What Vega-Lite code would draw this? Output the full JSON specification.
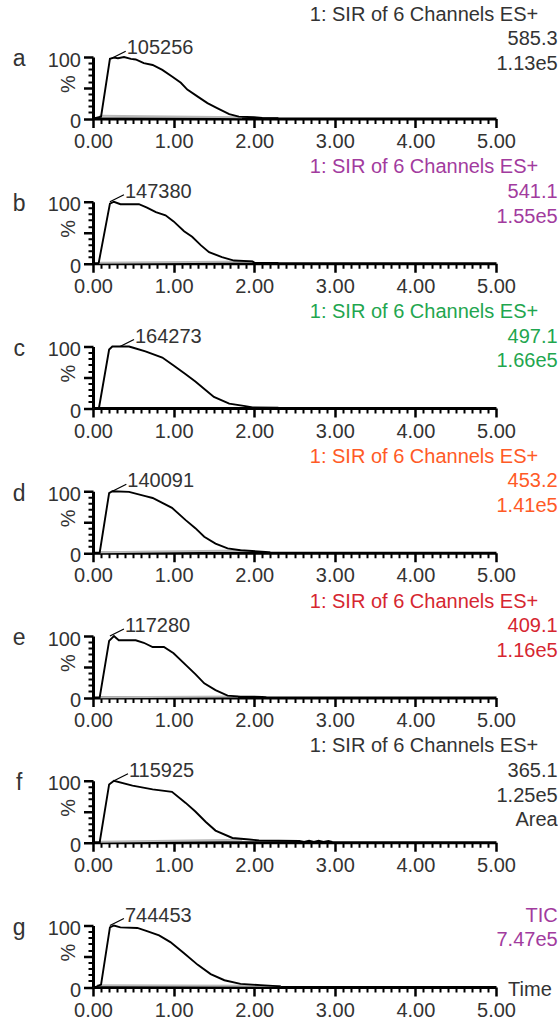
{
"$schema": "https://vega.github.io/schema/vega-lite/v6.json",
"padding": {"left": 12, "top": 4, "right": 0, "bottom": 0},
"background": "white",
"bounds": "flush",
"spacing": 82.75,
"config": {
  "view": {"stroke": null},
  "font": "Liberation Sans",
  "axis": {"labelFont": "Liberation Sans", "labelFontSize": 20, "labelColor": "#333333", "titleFont": "Liberation Sans", "titleFontSize": 20, "titleFontWeight": "normal", "titleColor": "#333333", "domainColor": "#000000", "tickColor": "#000000", "grid": false},
  "text": {"font": "Liberation Sans", "fontSize": 20, "color": "#333333"}
},
"datasets": {
  "traces": [
    {"panel":"a","series":"signal","t":0.01,"pct":0},{"panel":"a","series":"signal","t":0.1,"pct":3},{"panel":"a","series":"signal","t":0.21,"pct":97},{"panel":"a","series":"signal","t":0.26,"pct":99},{"panel":"a","series":"signal","t":0.31,"pct":98},{"panel":"a","series":"signal","t":0.385,"pct":100},{"panel":"a","series":"signal","t":0.47,"pct":97},{"panel":"a","series":"signal","t":0.53,"pct":96},{"panel":"a","series":"signal","t":0.63,"pct":90},{"panel":"a","series":"signal","t":0.74,"pct":87},{"panel":"a","series":"signal","t":0.86,"pct":79},{"panel":"a","series":"signal","t":0.985,"pct":68},{"panel":"a","series":"signal","t":1.09,"pct":58},{"panel":"a","series":"signal","t":1.17,"pct":47},{"panel":"a","series":"signal","t":1.295,"pct":36},{"panel":"a","series":"signal","t":1.42,"pct":25},{"panel":"a","series":"signal","t":1.54,"pct":17},{"panel":"a","series":"signal","t":1.69,"pct":7},{"panel":"a","series":"signal","t":1.81,"pct":3},{"panel":"a","series":"signal","t":2.0,"pct":2},{"panel":"a","series":"signal","t":2.1,"pct":1},{"panel":"a","series":"signal","t":2.3,"pct":0.5},
    {"panel":"a","series":"baseline","t":0.08,"pct":4.5},{"panel":"a","series":"baseline","t":1.85,"pct":2},
    {"panel":"b","series":"signal","t":0.07,"pct":0},{"panel":"b","series":"signal","t":0.21,"pct":97},{"panel":"b","series":"signal","t":0.26,"pct":100},{"panel":"b","series":"signal","t":0.34,"pct":96},{"panel":"b","series":"signal","t":0.57,"pct":96},{"panel":"b","series":"signal","t":0.67,"pct":90.5},{"panel":"b","series":"signal","t":0.78,"pct":83},{"panel":"b","series":"signal","t":0.9,"pct":78},{"panel":"b","series":"signal","t":1.0,"pct":68},{"panel":"b","series":"signal","t":1.13,"pct":52},{"panel":"b","series":"signal","t":1.23,"pct":43},{"panel":"b","series":"signal","t":1.34,"pct":29},{"panel":"b","series":"signal","t":1.44,"pct":18},{"panel":"b","series":"signal","t":1.6,"pct":10},{"panel":"b","series":"signal","t":1.75,"pct":4.4},{"panel":"b","series":"signal","t":1.98,"pct":3},{"panel":"b","series":"signal","t":2.01,"pct":0.5},{"panel":"b","series":"signal","t":2.3,"pct":0.3},
    {"panel":"b","series":"baseline","t":0.075,"pct":1},{"panel":"b","series":"baseline","t":1.98,"pct":3},
    {"panel":"c","series":"signal","t":0.074,"pct":0},{"panel":"c","series":"signal","t":0.2,"pct":95},{"panel":"c","series":"signal","t":0.24,"pct":100},{"panel":"c","series":"signal","t":0.447,"pct":100},{"panel":"c","series":"signal","t":0.5,"pct":98},{"panel":"c","series":"signal","t":0.65,"pct":92},{"panel":"c","series":"signal","t":0.86,"pct":82},{"panel":"c","series":"signal","t":1.0,"pct":69},{"panel":"c","series":"signal","t":1.15,"pct":55},{"panel":"c","series":"signal","t":1.27,"pct":43},{"panel":"c","series":"signal","t":1.4,"pct":29},{"panel":"c","series":"signal","t":1.5,"pct":18},{"panel":"c","series":"signal","t":1.69,"pct":7},{"panel":"c","series":"signal","t":1.89,"pct":3},{"panel":"c","series":"signal","t":1.98,"pct":1},{"panel":"c","series":"signal","t":2.3,"pct":0.5},
    {"panel":"d","series":"signal","t":0.083,"pct":0},{"panel":"d","series":"signal","t":0.2,"pct":97},{"panel":"d","series":"signal","t":0.24,"pct":100},{"panel":"d","series":"signal","t":0.447,"pct":99},{"panel":"d","series":"signal","t":0.65,"pct":92},{"panel":"d","series":"signal","t":0.74,"pct":89},{"panel":"d","series":"signal","t":0.86,"pct":81},{"panel":"d","series":"signal","t":0.98,"pct":73},{"panel":"d","series":"signal","t":1.15,"pct":53},{"panel":"d","series":"signal","t":1.27,"pct":40},{"panel":"d","series":"signal","t":1.38,"pct":26},{"panel":"d","series":"signal","t":1.52,"pct":15},{"panel":"d","series":"signal","t":1.67,"pct":7},{"panel":"d","series":"signal","t":1.83,"pct":4},{"panel":"d","series":"signal","t":2.14,"pct":1.5},{"panel":"d","series":"signal","t":2.2,"pct":0.5},
    {"panel":"d","series":"baseline","t":0.09,"pct":1},{"panel":"d","series":"baseline","t":1.85,"pct":3.5},
    {"panel":"e","series":"signal","t":0.083,"pct":0},{"panel":"e","series":"signal","t":0.2,"pct":92},{"panel":"e","series":"signal","t":0.26,"pct":100},{"panel":"e","series":"signal","t":0.32,"pct":93},{"panel":"e","series":"signal","t":0.53,"pct":93},{"panel":"e","series":"signal","t":0.63,"pct":89},{"panel":"e","series":"signal","t":0.74,"pct":82},{"panel":"e","series":"signal","t":0.88,"pct":82},{"panel":"e","series":"signal","t":1.0,"pct":72},{"panel":"e","series":"signal","t":1.15,"pct":53},{"panel":"e","series":"signal","t":1.27,"pct":38},{"panel":"e","series":"signal","t":1.38,"pct":23},{"panel":"e","series":"signal","t":1.52,"pct":12},{"panel":"e","series":"signal","t":1.67,"pct":3},{"panel":"e","series":"signal","t":1.83,"pct":1.5},{"panel":"e","series":"signal","t":2.1,"pct":1},{"panel":"e","series":"signal","t":2.15,"pct":0},
    {"panel":"e","series":"baseline","t":0.09,"pct":0.5},{"panel":"e","series":"baseline","t":1.8,"pct":1.5},
    {"panel":"f","series":"signal","t":0.083,"pct":0},{"panel":"f","series":"signal","t":0.2,"pct":94},{"panel":"f","series":"signal","t":0.26,"pct":100},{"panel":"f","series":"signal","t":0.49,"pct":92},{"panel":"f","series":"signal","t":0.74,"pct":86},{"panel":"f","series":"signal","t":0.98,"pct":82},{"panel":"f","series":"signal","t":1.15,"pct":64},{"panel":"f","series":"signal","t":1.27,"pct":50},{"panel":"f","series":"signal","t":1.4,"pct":33},{"panel":"f","series":"signal","t":1.52,"pct":19},{"panel":"f","series":"signal","t":1.73,"pct":7},{"panel":"f","series":"signal","t":1.94,"pct":4.4},{"panel":"f","series":"signal","t":2.06,"pct":3},{"panel":"f","series":"signal","t":2.3,"pct":2.5},{"panel":"f","series":"signal","t":2.56,"pct":2},{"panel":"f","series":"signal","t":2.62,"pct":0.5},{"panel":"f","series":"signal","t":2.68,"pct":2.5},{"panel":"f","series":"signal","t":2.74,"pct":0.5},{"panel":"f","series":"signal","t":2.8,"pct":2.5},{"panel":"f","series":"signal","t":2.86,"pct":0.5},{"panel":"f","series":"signal","t":2.92,"pct":2},{"panel":"f","series":"signal","t":2.97,"pct":0.5},
    {"panel":"f","series":"baseline","t":0.095,"pct":1},{"panel":"f","series":"baseline","t":1.85,"pct":4},
    {"panel":"g","series":"signal","t":0.03,"pct":0},{"panel":"g","series":"signal","t":0.1,"pct":4},{"panel":"g","series":"signal","t":0.21,"pct":97},{"panel":"g","series":"signal","t":0.26,"pct":100},{"panel":"g","series":"signal","t":0.34,"pct":97},{"panel":"g","series":"signal","t":0.55,"pct":96},{"panel":"g","series":"signal","t":0.67,"pct":91},{"panel":"g","series":"signal","t":0.82,"pct":84},{"panel":"g","series":"signal","t":0.96,"pct":73},{"panel":"g","series":"signal","t":1.13,"pct":55},{"panel":"g","series":"signal","t":1.3,"pct":36},{"panel":"g","series":"signal","t":1.46,"pct":21},{"panel":"g","series":"signal","t":1.63,"pct":11},{"panel":"g","series":"signal","t":1.83,"pct":5},{"panel":"g","series":"signal","t":2.08,"pct":3},{"panel":"g","series":"signal","t":2.33,"pct":1},
    {"panel":"g","series":"baseline","t":0.05,"pct":2.7},{"panel":"g","series":"baseline","t":2.33,"pct":2.1}
  ],
  "peaks": [
    {"panel":"a","t":0.232,"pct":98,"label":"105256"},
    {"panel":"b","t":0.21,"pct":100,"label":"147380"},
    {"panel":"c","t":0.335,"pct":100,"label":"164273"},
    {"panel":"d","t":0.24,"pct":100,"label":"140091"},
    {"panel":"e","t":0.21,"pct":100,"label":"117280"},
    {"panel":"f","t":0.26,"pct":100,"label":"115925"},
    {"panel":"g","t":0.21,"pct":100,"label":"744453"}
  ],
  "labels": [
    {"panel":"a","col":"letter","row":0,"text":"a"},{"panel":"a","col":"title","row":1,"text":"1: SIR of 6 Channels ES+"},{"panel":"a","col":"value","row":2,"text":"585.3"},{"panel":"a","col":"value","row":3,"text":"1.13e5"},
    {"panel":"b","col":"letter","row":0,"text":"b"},{"panel":"b","col":"title","row":1,"text":"1: SIR of 6 Channels ES+"},{"panel":"b","col":"value","row":2,"text":"541.1"},{"panel":"b","col":"value","row":3,"text":"1.55e5"},
    {"panel":"c","col":"letter","row":0,"text":"c"},{"panel":"c","col":"title","row":1,"text":"1: SIR of 6 Channels ES+"},{"panel":"c","col":"value","row":2,"text":"497.1"},{"panel":"c","col":"value","row":3,"text":"1.66e5"},
    {"panel":"d","col":"letter","row":0,"text":"d"},{"panel":"d","col":"title","row":1,"text":"1: SIR of 6 Channels ES+"},{"panel":"d","col":"value","row":2,"text":"453.2"},{"panel":"d","col":"value","row":3,"text":"1.41e5"},
    {"panel":"e","col":"letter","row":0,"text":"e"},{"panel":"e","col":"title","row":1,"text":"1: SIR of 6 Channels ES+"},{"panel":"e","col":"value","row":2,"text":"409.1"},{"panel":"e","col":"value","row":3,"text":"1.16e5"},
    {"panel":"f","col":"letter","row":0,"text":"f"},{"panel":"f","col":"title","row":1,"text":"1: SIR of 6 Channels ES+"},{"panel":"f","col":"value","row":2,"text":"365.1"},{"panel":"f","col":"value","row":3,"text":"1.25e5"},{"panel":"f","col":"value","row":4,"text":"Area"},
    {"panel":"g","col":"letter","row":0,"text":"g"},{"panel":"g","col":"value","row":2,"text":"TIC"},{"panel":"g","col":"value","row":3,"text":"7.47e5"},{"panel":"g","col":"time","row":0,"text":"Time"}
  ]
},
"vconcat": [
{"width":403,"height":61.5,"resolve":{"scale":{"y":"independent"},"axis":{"x":"independent","y":"independent"}},"layer":[
 {"data":{"name":"traces"},"transform":[{"filter":"datum.panel==='a' && datum.series==='baseline'"}],"mark":{"type":"line","color":"#b8b8b8","strokeWidth":2},"encoding":{"x":{"field":"t","type":"quantitative","scale":{"domain":[0,5],"nice":false,"zero":false},"axis":{"orient":"bottom","values":[0.1,0.2,0.3,0.4,0.5,0.6,0.7,0.8,0.9,1.1,1.2,1.3,1.4,1.5,1.6,1.7,1.8,1.9,2.1,2.2,2.3,2.4,2.5,2.6,2.7,2.8,2.9,3.1,3.2,3.3,3.4,3.5,3.6,3.7,3.8,3.9,4.1,4.2,4.3,4.4,4.5,4.6,4.7,4.8,4.9],"tickSize":5,"tickWidth":2,"labels":false,"domain":false,"title":null}},"y":{"field":"pct","type":"quantitative","scale":{"domain":[0,100],"nice":false,"zero":false},"axis":{"orient":"left","values":[10,20,30,40,60,70,80,90],"tickSize":5,"tickWidth":2,"labels":false,"domain":false,"title":null}}}},
 {"data":{"name":"traces"},"transform":[{"filter":"datum.panel==='a' && datum.series==='signal'"}],"mark":{"type":"line","color":"#000000","strokeWidth":1.9},"encoding":{"x":{"field":"t","type":"quantitative","scale":{"domain":[0,5],"nice":false,"zero":false},"axis":{"orient":"bottom","values":[0,1,2,3,4,5],"format":".2f","tickSize":9,"tickWidth":2.5,"domainWidth":3,"labelPadding":4,"title":null,"labelFlush":false,"labelOverlap":false}},"y":{"field":"pct","type":"quantitative","scale":{"domain":[0,100],"nice":false,"zero":false},"axis":{"orient":"left","values":[0,50,100],"tickSize":9.5,"tickWidth":2.5,"domainWidth":3,"labelPadding":3,"labelOffset":3,"labelExpr":"datum.value === 50 ? '' : datum.label","format":"d","title":"%","titleAngle":-90,"titleX":-25,"titleY":26.7,"titleBaseline":"middle","titleAlign":"center"}}}},
 {"data":{"name":"peaks"},"transform":[{"filter":"datum.panel==='a'"}],"mark":{"type":"rule","color":"#000000","strokeWidth":1.3,"x2Offset":14,"y2Offset":-7},"encoding":{"x":{"field":"t","type":"quantitative","scale":{"domain":[0,5],"nice":false,"zero":false},"axis":null},"x2":{"field":"t"},"y":{"field":"pct","type":"quantitative","scale":{"domain":[0,100],"nice":false,"zero":false},"axis":null},"y2":{"field":"pct"}}},
 {"data":{"name":"peaks"},"transform":[{"filter":"datum.panel==='a'"}],"mark":{"type":"text","align":"left","baseline":"middle","dx":15,"dy":-10},"encoding":{"x":{"field":"t","type":"quantitative","scale":{"domain":[0,5],"nice":false,"zero":false},"axis":null},"y":{"field":"pct","type":"quantitative","scale":{"domain":[0,100],"nice":false,"zero":false},"axis":null},"text":{"field":"label"}}},
 {"data":{"name":"labels"},"transform":[{"filter":"datum.panel==='a' && datum.col==='letter'"}],"mark":{"type":"text","align":"center","baseline":"alphabetic","fontSize":23},"encoding":{"x":{"datum":-0.916,"type":"quantitative","scale":{"domain":[0,5],"nice":false,"zero":false},"axis":null},"y":{"datum":84.7,"type":"quantitative","scale":{"domain":[0,100],"nice":false,"zero":false},"axis":null},"text":{"field":"text"}}},
 {"data":{"name":"labels"},"transform":[{"filter":"datum.panel==='a' && datum.col==='title'"}],"mark":{"type":"text","align":"right","baseline":"middle","color":"#333333"},"encoding":{"x":{"datum":5.524,"type":"quantitative","scale":{"domain":[0,5],"nice":false,"zero":false},"axis":null},"y":{"field":"row","type":"quantitative","scale":{"domain":[1,4],"range":[-42.4,31.5],"nice":false,"zero":false},"axis":null},"text":{"field":"text"}}},
 {"data":{"name":"labels"},"transform":[{"filter":"datum.panel==='a' && datum.col==='value'"}],"mark":{"type":"text","align":"right","baseline":"middle","color":"#333333"},"encoding":{"x":{"datum":5.765,"type":"quantitative","scale":{"domain":[0,5],"nice":false,"zero":false},"axis":null},"y":{"field":"row","type":"quantitative","scale":{"domain":[1,4],"range":[-42.4,31.5],"nice":false,"zero":false},"axis":null},"text":{"field":"text"}}}
]},
{"width":403,"height":61.5,"resolve":{"scale":{"y":"independent"},"axis":{"x":"independent","y":"independent"}},"layer":[
 {"data":{"name":"traces"},"transform":[{"filter":"datum.panel==='b' && datum.series==='baseline'"}],"mark":{"type":"line","color":"#b8b8b8","strokeWidth":2},"encoding":{"x":{"field":"t","type":"quantitative","scale":{"domain":[0,5],"nice":false,"zero":false},"axis":{"orient":"bottom","values":[0.1,0.2,0.3,0.4,0.5,0.6,0.7,0.8,0.9,1.1,1.2,1.3,1.4,1.5,1.6,1.7,1.8,1.9,2.1,2.2,2.3,2.4,2.5,2.6,2.7,2.8,2.9,3.1,3.2,3.3,3.4,3.5,3.6,3.7,3.8,3.9,4.1,4.2,4.3,4.4,4.5,4.6,4.7,4.8,4.9],"tickSize":5,"tickWidth":2,"labels":false,"domain":false,"title":null}},"y":{"field":"pct","type":"quantitative","scale":{"domain":[0,100],"nice":false,"zero":false},"axis":{"orient":"left","values":[10,20,30,40,60,70,80,90],"tickSize":5,"tickWidth":2,"labels":false,"domain":false,"title":null}}}},
 {"data":{"name":"traces"},"transform":[{"filter":"datum.panel==='b' && datum.series==='signal'"}],"mark":{"type":"line","color":"#000000","strokeWidth":1.9},"encoding":{"x":{"field":"t","type":"quantitative","scale":{"domain":[0,5],"nice":false,"zero":false},"axis":{"orient":"bottom","values":[0,1,2,3,4,5],"format":".2f","tickSize":9,"tickWidth":2.5,"domainWidth":3,"labelPadding":4,"title":null,"labelFlush":false,"labelOverlap":false}},"y":{"field":"pct","type":"quantitative","scale":{"domain":[0,100],"nice":false,"zero":false},"axis":{"orient":"left","values":[0,50,100],"tickSize":9.5,"tickWidth":2.5,"domainWidth":3,"labelPadding":3,"labelOffset":3,"labelExpr":"datum.value === 50 ? '' : datum.label","format":"d","title":"%","titleAngle":-90,"titleX":-25,"titleY":26.7,"titleBaseline":"middle","titleAlign":"center"}}}},
 {"data":{"name":"peaks"},"transform":[{"filter":"datum.panel==='b'"}],"mark":{"type":"rule","color":"#000000","strokeWidth":1.3,"x2Offset":14,"y2Offset":-7},"encoding":{"x":{"field":"t","type":"quantitative","scale":{"domain":[0,5],"nice":false,"zero":false},"axis":null},"x2":{"field":"t"},"y":{"field":"pct","type":"quantitative","scale":{"domain":[0,100],"nice":false,"zero":false},"axis":null},"y2":{"field":"pct"}}},
 {"data":{"name":"peaks"},"transform":[{"filter":"datum.panel==='b'"}],"mark":{"type":"text","align":"left","baseline":"middle","dx":15,"dy":-10},"encoding":{"x":{"field":"t","type":"quantitative","scale":{"domain":[0,5],"nice":false,"zero":false},"axis":null},"y":{"field":"pct","type":"quantitative","scale":{"domain":[0,100],"nice":false,"zero":false},"axis":null},"text":{"field":"label"}}},
 {"data":{"name":"labels"},"transform":[{"filter":"datum.panel==='b' && datum.col==='letter'"}],"mark":{"type":"text","align":"center","baseline":"alphabetic","fontSize":23},"encoding":{"x":{"datum":-0.916,"type":"quantitative","scale":{"domain":[0,5],"nice":false,"zero":false},"axis":null},"y":{"datum":84.7,"type":"quantitative","scale":{"domain":[0,100],"nice":false,"zero":false},"axis":null},"text":{"field":"text"}}},
 {"data":{"name":"labels"},"transform":[{"filter":"datum.panel==='b' && datum.col==='title'"}],"mark":{"type":"text","align":"right","baseline":"middle","color":"#a23b9e"},"encoding":{"x":{"datum":5.524,"type":"quantitative","scale":{"domain":[0,5],"nice":false,"zero":false},"axis":null},"y":{"field":"row","type":"quantitative","scale":{"domain":[1,4],"range":[-34.4,39.5],"nice":false,"zero":false},"axis":null},"text":{"field":"text"}}},
 {"data":{"name":"labels"},"transform":[{"filter":"datum.panel==='b' && datum.col==='value'"}],"mark":{"type":"text","align":"right","baseline":"middle","color":"#a23b9e"},"encoding":{"x":{"datum":5.765,"type":"quantitative","scale":{"domain":[0,5],"nice":false,"zero":false},"axis":null},"y":{"field":"row","type":"quantitative","scale":{"domain":[1,4],"range":[-34.4,39.5],"nice":false,"zero":false},"axis":null},"text":{"field":"text"}}}
]},
{"width":403,"height":61.5,"resolve":{"scale":{"y":"independent"},"axis":{"x":"independent","y":"independent"}},"layer":[
 {"data":{"name":"traces"},"transform":[{"filter":"datum.panel==='c' && datum.series==='baseline'"}],"mark":{"type":"line","color":"#b8b8b8","strokeWidth":2},"encoding":{"x":{"field":"t","type":"quantitative","scale":{"domain":[0,5],"nice":false,"zero":false},"axis":{"orient":"bottom","values":[0.1,0.2,0.3,0.4,0.5,0.6,0.7,0.8,0.9,1.1,1.2,1.3,1.4,1.5,1.6,1.7,1.8,1.9,2.1,2.2,2.3,2.4,2.5,2.6,2.7,2.8,2.9,3.1,3.2,3.3,3.4,3.5,3.6,3.7,3.8,3.9,4.1,4.2,4.3,4.4,4.5,4.6,4.7,4.8,4.9],"tickSize":5,"tickWidth":2,"labels":false,"domain":false,"title":null}},"y":{"field":"pct","type":"quantitative","scale":{"domain":[0,100],"nice":false,"zero":false},"axis":{"orient":"left","values":[10,20,30,40,60,70,80,90],"tickSize":5,"tickWidth":2,"labels":false,"domain":false,"title":null}}}},
 {"data":{"name":"traces"},"transform":[{"filter":"datum.panel==='c' && datum.series==='signal'"}],"mark":{"type":"line","color":"#000000","strokeWidth":1.9},"encoding":{"x":{"field":"t","type":"quantitative","scale":{"domain":[0,5],"nice":false,"zero":false},"axis":{"orient":"bottom","values":[0,1,2,3,4,5],"format":".2f","tickSize":9,"tickWidth":2.5,"domainWidth":3,"labelPadding":4,"title":null,"labelFlush":false,"labelOverlap":false}},"y":{"field":"pct","type":"quantitative","scale":{"domain":[0,100],"nice":false,"zero":false},"axis":{"orient":"left","values":[0,50,100],"tickSize":9.5,"tickWidth":2.5,"domainWidth":3,"labelPadding":3,"labelOffset":3,"labelExpr":"datum.value === 50 ? '' : datum.label","format":"d","title":"%","titleAngle":-90,"titleX":-25,"titleY":26.7,"titleBaseline":"middle","titleAlign":"center"}}}},
 {"data":{"name":"peaks"},"transform":[{"filter":"datum.panel==='c'"}],"mark":{"type":"rule","color":"#000000","strokeWidth":1.3,"x2Offset":14,"y2Offset":-7},"encoding":{"x":{"field":"t","type":"quantitative","scale":{"domain":[0,5],"nice":false,"zero":false},"axis":null},"x2":{"field":"t"},"y":{"field":"pct","type":"quantitative","scale":{"domain":[0,100],"nice":false,"zero":false},"axis":null},"y2":{"field":"pct"}}},
 {"data":{"name":"peaks"},"transform":[{"filter":"datum.panel==='c'"}],"mark":{"type":"text","align":"left","baseline":"middle","dx":15,"dy":-10},"encoding":{"x":{"field":"t","type":"quantitative","scale":{"domain":[0,5],"nice":false,"zero":false},"axis":null},"y":{"field":"pct","type":"quantitative","scale":{"domain":[0,100],"nice":false,"zero":false},"axis":null},"text":{"field":"label"}}},
 {"data":{"name":"labels"},"transform":[{"filter":"datum.panel==='c' && datum.col==='letter'"}],"mark":{"type":"text","align":"center","baseline":"alphabetic","fontSize":23},"encoding":{"x":{"datum":-0.916,"type":"quantitative","scale":{"domain":[0,5],"nice":false,"zero":false},"axis":null},"y":{"datum":84.7,"type":"quantitative","scale":{"domain":[0,100],"nice":false,"zero":false},"axis":null},"text":{"field":"text"}}},
 {"data":{"name":"labels"},"transform":[{"filter":"datum.panel==='c' && datum.col==='title'"}],"mark":{"type":"text","align":"right","baseline":"middle","color":"#1fa64f"},"encoding":{"x":{"datum":5.524,"type":"quantitative","scale":{"domain":[0,5],"nice":false,"zero":false},"axis":null},"y":{"field":"row","type":"quantitative","scale":{"domain":[1,4],"range":[-34.4,39.5],"nice":false,"zero":false},"axis":null},"text":{"field":"text"}}},
 {"data":{"name":"labels"},"transform":[{"filter":"datum.panel==='c' && datum.col==='value'"}],"mark":{"type":"text","align":"right","baseline":"middle","color":"#1fa64f"},"encoding":{"x":{"datum":5.765,"type":"quantitative","scale":{"domain":[0,5],"nice":false,"zero":false},"axis":null},"y":{"field":"row","type":"quantitative","scale":{"domain":[1,4],"range":[-34.4,39.5],"nice":false,"zero":false},"axis":null},"text":{"field":"text"}}}
]},
{"width":403,"height":61.5,"resolve":{"scale":{"y":"independent"},"axis":{"x":"independent","y":"independent"}},"layer":[
 {"data":{"name":"traces"},"transform":[{"filter":"datum.panel==='d' && datum.series==='baseline'"}],"mark":{"type":"line","color":"#b8b8b8","strokeWidth":2},"encoding":{"x":{"field":"t","type":"quantitative","scale":{"domain":[0,5],"nice":false,"zero":false},"axis":{"orient":"bottom","values":[0.1,0.2,0.3,0.4,0.5,0.6,0.7,0.8,0.9,1.1,1.2,1.3,1.4,1.5,1.6,1.7,1.8,1.9,2.1,2.2,2.3,2.4,2.5,2.6,2.7,2.8,2.9,3.1,3.2,3.3,3.4,3.5,3.6,3.7,3.8,3.9,4.1,4.2,4.3,4.4,4.5,4.6,4.7,4.8,4.9],"tickSize":5,"tickWidth":2,"labels":false,"domain":false,"title":null}},"y":{"field":"pct","type":"quantitative","scale":{"domain":[0,100],"nice":false,"zero":false},"axis":{"orient":"left","values":[10,20,30,40,60,70,80,90],"tickSize":5,"tickWidth":2,"labels":false,"domain":false,"title":null}}}},
 {"data":{"name":"traces"},"transform":[{"filter":"datum.panel==='d' && datum.series==='signal'"}],"mark":{"type":"line","color":"#000000","strokeWidth":1.9},"encoding":{"x":{"field":"t","type":"quantitative","scale":{"domain":[0,5],"nice":false,"zero":false},"axis":{"orient":"bottom","values":[0,1,2,3,4,5],"format":".2f","tickSize":9,"tickWidth":2.5,"domainWidth":3,"labelPadding":4,"title":null,"labelFlush":false,"labelOverlap":false}},"y":{"field":"pct","type":"quantitative","scale":{"domain":[0,100],"nice":false,"zero":false},"axis":{"orient":"left","values":[0,50,100],"tickSize":9.5,"tickWidth":2.5,"domainWidth":3,"labelPadding":3,"labelOffset":3,"labelExpr":"datum.value === 50 ? '' : datum.label","format":"d","title":"%","titleAngle":-90,"titleX":-25,"titleY":26.7,"titleBaseline":"middle","titleAlign":"center"}}}},
 {"data":{"name":"peaks"},"transform":[{"filter":"datum.panel==='d'"}],"mark":{"type":"rule","color":"#000000","strokeWidth":1.3,"x2Offset":14,"y2Offset":-7},"encoding":{"x":{"field":"t","type":"quantitative","scale":{"domain":[0,5],"nice":false,"zero":false},"axis":null},"x2":{"field":"t"},"y":{"field":"pct","type":"quantitative","scale":{"domain":[0,100],"nice":false,"zero":false},"axis":null},"y2":{"field":"pct"}}},
 {"data":{"name":"peaks"},"transform":[{"filter":"datum.panel==='d'"}],"mark":{"type":"text","align":"left","baseline":"middle","dx":15,"dy":-10},"encoding":{"x":{"field":"t","type":"quantitative","scale":{"domain":[0,5],"nice":false,"zero":false},"axis":null},"y":{"field":"pct","type":"quantitative","scale":{"domain":[0,100],"nice":false,"zero":false},"axis":null},"text":{"field":"label"}}},
 {"data":{"name":"labels"},"transform":[{"filter":"datum.panel==='d' && datum.col==='letter'"}],"mark":{"type":"text","align":"center","baseline":"alphabetic","fontSize":23},"encoding":{"x":{"datum":-0.916,"type":"quantitative","scale":{"domain":[0,5],"nice":false,"zero":false},"axis":null},"y":{"datum":84.7,"type":"quantitative","scale":{"domain":[0,100],"nice":false,"zero":false},"axis":null},"text":{"field":"text"}}},
 {"data":{"name":"labels"},"transform":[{"filter":"datum.panel==='d' && datum.col==='title'"}],"mark":{"type":"text","align":"right","baseline":"middle","color":"#ff5a26"},"encoding":{"x":{"datum":5.524,"type":"quantitative","scale":{"domain":[0,5],"nice":false,"zero":false},"axis":null},"y":{"field":"row","type":"quantitative","scale":{"domain":[1,4],"range":[-34.4,39.5],"nice":false,"zero":false},"axis":null},"text":{"field":"text"}}},
 {"data":{"name":"labels"},"transform":[{"filter":"datum.panel==='d' && datum.col==='value'"}],"mark":{"type":"text","align":"right","baseline":"middle","color":"#ff5a26"},"encoding":{"x":{"datum":5.765,"type":"quantitative","scale":{"domain":[0,5],"nice":false,"zero":false},"axis":null},"y":{"field":"row","type":"quantitative","scale":{"domain":[1,4],"range":[-34.4,39.5],"nice":false,"zero":false},"axis":null},"text":{"field":"text"}}}
]},
{"width":403,"height":61.5,"resolve":{"scale":{"y":"independent"},"axis":{"x":"independent","y":"independent"}},"layer":[
 {"data":{"name":"traces"},"transform":[{"filter":"datum.panel==='e' && datum.series==='baseline'"}],"mark":{"type":"line","color":"#b8b8b8","strokeWidth":2},"encoding":{"x":{"field":"t","type":"quantitative","scale":{"domain":[0,5],"nice":false,"zero":false},"axis":{"orient":"bottom","values":[0.1,0.2,0.3,0.4,0.5,0.6,0.7,0.8,0.9,1.1,1.2,1.3,1.4,1.5,1.6,1.7,1.8,1.9,2.1,2.2,2.3,2.4,2.5,2.6,2.7,2.8,2.9,3.1,3.2,3.3,3.4,3.5,3.6,3.7,3.8,3.9,4.1,4.2,4.3,4.4,4.5,4.6,4.7,4.8,4.9],"tickSize":5,"tickWidth":2,"labels":false,"domain":false,"title":null}},"y":{"field":"pct","type":"quantitative","scale":{"domain":[0,100],"nice":false,"zero":false},"axis":{"orient":"left","values":[10,20,30,40,60,70,80,90],"tickSize":5,"tickWidth":2,"labels":false,"domain":false,"title":null}}}},
 {"data":{"name":"traces"},"transform":[{"filter":"datum.panel==='e' && datum.series==='signal'"}],"mark":{"type":"line","color":"#000000","strokeWidth":1.9},"encoding":{"x":{"field":"t","type":"quantitative","scale":{"domain":[0,5],"nice":false,"zero":false},"axis":{"orient":"bottom","values":[0,1,2,3,4,5],"format":".2f","tickSize":9,"tickWidth":2.5,"domainWidth":3,"labelPadding":4,"title":null,"labelFlush":false,"labelOverlap":false}},"y":{"field":"pct","type":"quantitative","scale":{"domain":[0,100],"nice":false,"zero":false},"axis":{"orient":"left","values":[0,50,100],"tickSize":9.5,"tickWidth":2.5,"domainWidth":3,"labelPadding":3,"labelOffset":3,"labelExpr":"datum.value === 50 ? '' : datum.label","format":"d","title":"%","titleAngle":-90,"titleX":-25,"titleY":26.7,"titleBaseline":"middle","titleAlign":"center"}}}},
 {"data":{"name":"peaks"},"transform":[{"filter":"datum.panel==='e'"}],"mark":{"type":"rule","color":"#000000","strokeWidth":1.3,"x2Offset":14,"y2Offset":-7},"encoding":{"x":{"field":"t","type":"quantitative","scale":{"domain":[0,5],"nice":false,"zero":false},"axis":null},"x2":{"field":"t"},"y":{"field":"pct","type":"quantitative","scale":{"domain":[0,100],"nice":false,"zero":false},"axis":null},"y2":{"field":"pct"}}},
 {"data":{"name":"peaks"},"transform":[{"filter":"datum.panel==='e'"}],"mark":{"type":"text","align":"left","baseline":"middle","dx":15,"dy":-10},"encoding":{"x":{"field":"t","type":"quantitative","scale":{"domain":[0,5],"nice":false,"zero":false},"axis":null},"y":{"field":"pct","type":"quantitative","scale":{"domain":[0,100],"nice":false,"zero":false},"axis":null},"text":{"field":"label"}}},
 {"data":{"name":"labels"},"transform":[{"filter":"datum.panel==='e' && datum.col==='letter'"}],"mark":{"type":"text","align":"center","baseline":"alphabetic","fontSize":23},"encoding":{"x":{"datum":-0.916,"type":"quantitative","scale":{"domain":[0,5],"nice":false,"zero":false},"axis":null},"y":{"datum":84.7,"type":"quantitative","scale":{"domain":[0,100],"nice":false,"zero":false},"axis":null},"text":{"field":"text"}}},
 {"data":{"name":"labels"},"transform":[{"filter":"datum.panel==='e' && datum.col==='title'"}],"mark":{"type":"text","align":"right","baseline":"middle","color":"#d62630"},"encoding":{"x":{"datum":5.524,"type":"quantitative","scale":{"domain":[0,5],"nice":false,"zero":false},"axis":null},"y":{"field":"row","type":"quantitative","scale":{"domain":[1,4],"range":[-34.4,39.5],"nice":false,"zero":false},"axis":null},"text":{"field":"text"}}},
 {"data":{"name":"labels"},"transform":[{"filter":"datum.panel==='e' && datum.col==='value'"}],"mark":{"type":"text","align":"right","baseline":"middle","color":"#d62630"},"encoding":{"x":{"datum":5.765,"type":"quantitative","scale":{"domain":[0,5],"nice":false,"zero":false},"axis":null},"y":{"field":"row","type":"quantitative","scale":{"domain":[1,4],"range":[-34.4,39.5],"nice":false,"zero":false},"axis":null},"text":{"field":"text"}}}
]},
{"width":403,"height":61.5,"resolve":{"scale":{"y":"independent"},"axis":{"x":"independent","y":"independent"}},"layer":[
 {"data":{"name":"traces"},"transform":[{"filter":"datum.panel==='f' && datum.series==='baseline'"}],"mark":{"type":"line","color":"#b8b8b8","strokeWidth":2},"encoding":{"x":{"field":"t","type":"quantitative","scale":{"domain":[0,5],"nice":false,"zero":false},"axis":{"orient":"bottom","values":[0.1,0.2,0.3,0.4,0.5,0.6,0.7,0.8,0.9,1.1,1.2,1.3,1.4,1.5,1.6,1.7,1.8,1.9,2.1,2.2,2.3,2.4,2.5,2.6,2.7,2.8,2.9,3.1,3.2,3.3,3.4,3.5,3.6,3.7,3.8,3.9,4.1,4.2,4.3,4.4,4.5,4.6,4.7,4.8,4.9],"tickSize":5,"tickWidth":2,"labels":false,"domain":false,"title":null}},"y":{"field":"pct","type":"quantitative","scale":{"domain":[0,100],"nice":false,"zero":false},"axis":{"orient":"left","values":[10,20,30,40,60,70,80,90],"tickSize":5,"tickWidth":2,"labels":false,"domain":false,"title":null}}}},
 {"data":{"name":"traces"},"transform":[{"filter":"datum.panel==='f' && datum.series==='signal'"}],"mark":{"type":"line","color":"#000000","strokeWidth":1.9},"encoding":{"x":{"field":"t","type":"quantitative","scale":{"domain":[0,5],"nice":false,"zero":false},"axis":{"orient":"bottom","values":[0,1,2,3,4,5],"format":".2f","tickSize":9,"tickWidth":2.5,"domainWidth":3,"labelPadding":4,"title":null,"labelFlush":false,"labelOverlap":false}},"y":{"field":"pct","type":"quantitative","scale":{"domain":[0,100],"nice":false,"zero":false},"axis":{"orient":"left","values":[0,50,100],"tickSize":9.5,"tickWidth":2.5,"domainWidth":3,"labelPadding":3,"labelOffset":3,"labelExpr":"datum.value === 50 ? '' : datum.label","format":"d","title":"%","titleAngle":-90,"titleX":-25,"titleY":26.7,"titleBaseline":"middle","titleAlign":"center"}}}},
 {"data":{"name":"peaks"},"transform":[{"filter":"datum.panel==='f'"}],"mark":{"type":"rule","color":"#000000","strokeWidth":1.3,"x2Offset":14,"y2Offset":-7},"encoding":{"x":{"field":"t","type":"quantitative","scale":{"domain":[0,5],"nice":false,"zero":false},"axis":null},"x2":{"field":"t"},"y":{"field":"pct","type":"quantitative","scale":{"domain":[0,100],"nice":false,"zero":false},"axis":null},"y2":{"field":"pct"}}},
 {"data":{"name":"peaks"},"transform":[{"filter":"datum.panel==='f'"}],"mark":{"type":"text","align":"left","baseline":"middle","dx":15,"dy":-10},"encoding":{"x":{"field":"t","type":"quantitative","scale":{"domain":[0,5],"nice":false,"zero":false},"axis":null},"y":{"field":"pct","type":"quantitative","scale":{"domain":[0,100],"nice":false,"zero":false},"axis":null},"text":{"field":"label"}}},
 {"data":{"name":"labels"},"transform":[{"filter":"datum.panel==='f' && datum.col==='letter'"}],"mark":{"type":"text","align":"center","baseline":"alphabetic","fontSize":23},"encoding":{"x":{"datum":-0.916,"type":"quantitative","scale":{"domain":[0,5],"nice":false,"zero":false},"axis":null},"y":{"datum":84.7,"type":"quantitative","scale":{"domain":[0,100],"nice":false,"zero":false},"axis":null},"text":{"field":"text"}}},
 {"data":{"name":"labels"},"transform":[{"filter":"datum.panel==='f' && datum.col==='title'"}],"mark":{"type":"text","align":"right","baseline":"middle","color":"#333333"},"encoding":{"x":{"datum":5.524,"type":"quantitative","scale":{"domain":[0,5],"nice":false,"zero":false},"axis":null},"y":{"field":"row","type":"quantitative","scale":{"domain":[1,4],"range":[-34.4,39.5],"nice":false,"zero":false},"axis":null},"text":{"field":"text"}}},
 {"data":{"name":"labels"},"transform":[{"filter":"datum.panel==='f' && datum.col==='value'"}],"mark":{"type":"text","align":"right","baseline":"middle","color":"#333333"},"encoding":{"x":{"datum":5.765,"type":"quantitative","scale":{"domain":[0,5],"nice":false,"zero":false},"axis":null},"y":{"field":"row","type":"quantitative","scale":{"domain":[1,4],"range":[-34.4,39.5],"nice":false,"zero":false},"axis":null},"text":{"field":"text"}}}
]},
{"width":403,"height":61.5,"resolve":{"scale":{"y":"independent"},"axis":{"x":"independent","y":"independent"}},"layer":[
 {"data":{"name":"traces"},"transform":[{"filter":"datum.panel==='g' && datum.series==='baseline'"}],"mark":{"type":"line","color":"#b8b8b8","strokeWidth":2},"encoding":{"x":{"field":"t","type":"quantitative","scale":{"domain":[0,5],"nice":false,"zero":false},"axis":{"orient":"bottom","values":[0.1,0.2,0.3,0.4,0.5,0.6,0.7,0.8,0.9,1.1,1.2,1.3,1.4,1.5,1.6,1.7,1.8,1.9,2.1,2.2,2.3,2.4,2.5,2.6,2.7,2.8,2.9,3.1,3.2,3.3,3.4,3.5,3.6,3.7,3.8,3.9,4.1,4.2,4.3,4.4,4.5,4.6,4.7,4.8,4.9],"tickSize":5,"tickWidth":2,"labels":false,"domain":false,"title":null}},"y":{"field":"pct","type":"quantitative","scale":{"domain":[0,100],"nice":false,"zero":false},"axis":{"orient":"left","values":[10,20,30,40,60,70,80,90],"tickSize":5,"tickWidth":2,"labels":false,"domain":false,"title":null}}}},
 {"data":{"name":"traces"},"transform":[{"filter":"datum.panel==='g' && datum.series==='signal'"}],"mark":{"type":"line","color":"#000000","strokeWidth":1.9},"encoding":{"x":{"field":"t","type":"quantitative","scale":{"domain":[0,5],"nice":false,"zero":false},"axis":{"orient":"bottom","values":[0,1,2,3,4,5],"format":".2f","tickSize":9,"tickWidth":2.5,"domainWidth":3,"labelPadding":4,"title":null,"labelFlush":false,"labelOverlap":false}},"y":{"field":"pct","type":"quantitative","scale":{"domain":[0,100],"nice":false,"zero":false},"axis":{"orient":"left","values":[0,50,100],"tickSize":9.5,"tickWidth":2.5,"domainWidth":3,"labelPadding":3,"labelOffset":3,"labelExpr":"datum.value === 50 ? '' : datum.label","format":"d","title":"%","titleAngle":-90,"titleX":-25,"titleY":26.7,"titleBaseline":"middle","titleAlign":"center"}}}},
 {"data":{"name":"peaks"},"transform":[{"filter":"datum.panel==='g'"}],"mark":{"type":"rule","color":"#000000","strokeWidth":1.3,"x2Offset":14,"y2Offset":-7},"encoding":{"x":{"field":"t","type":"quantitative","scale":{"domain":[0,5],"nice":false,"zero":false},"axis":null},"x2":{"field":"t"},"y":{"field":"pct","type":"quantitative","scale":{"domain":[0,100],"nice":false,"zero":false},"axis":null},"y2":{"field":"pct"}}},
 {"data":{"name":"peaks"},"transform":[{"filter":"datum.panel==='g'"}],"mark":{"type":"text","align":"left","baseline":"middle","dx":15,"dy":-10},"encoding":{"x":{"field":"t","type":"quantitative","scale":{"domain":[0,5],"nice":false,"zero":false},"axis":null},"y":{"field":"pct","type":"quantitative","scale":{"domain":[0,100],"nice":false,"zero":false},"axis":null},"text":{"field":"label"}}},
 {"data":{"name":"labels"},"transform":[{"filter":"datum.panel==='g' && datum.col==='letter'"}],"mark":{"type":"text","align":"center","baseline":"alphabetic","fontSize":23},"encoding":{"x":{"datum":-0.916,"type":"quantitative","scale":{"domain":[0,5],"nice":false,"zero":false},"axis":null},"y":{"datum":84.7,"type":"quantitative","scale":{"domain":[0,100],"nice":false,"zero":false},"axis":null},"text":{"field":"text"}}},
 {"data":{"name":"labels"},"transform":[{"filter":"datum.panel==='g' && datum.col==='value'"}],"mark":{"type":"text","align":"right","baseline":"middle","color":"#a23b9e"},"encoding":{"x":{"datum":5.765,"type":"quantitative","scale":{"domain":[0,5],"nice":false,"zero":false},"axis":null},"y":{"field":"row","type":"quantitative","scale":{"domain":[1,4],"range":[-34.4,39.5],"nice":false,"zero":false},"axis":null},"text":{"field":"text"}}},
 {"data":{"name":"labels"},"transform":[{"filter":"datum.panel==='g' && datum.col==='time'"}],"mark":{"type":"text","align":"left","baseline":"middle"},"encoding":{"x":{"datum":5.15,"type":"quantitative","scale":{"domain":[0,5],"nice":false,"zero":false},"axis":null},"y":{"datum":-5,"type":"quantitative","scale":{"domain":[0,100],"nice":false,"zero":false},"axis":null},"text":{"field":"text"}}}
]}
]
}
